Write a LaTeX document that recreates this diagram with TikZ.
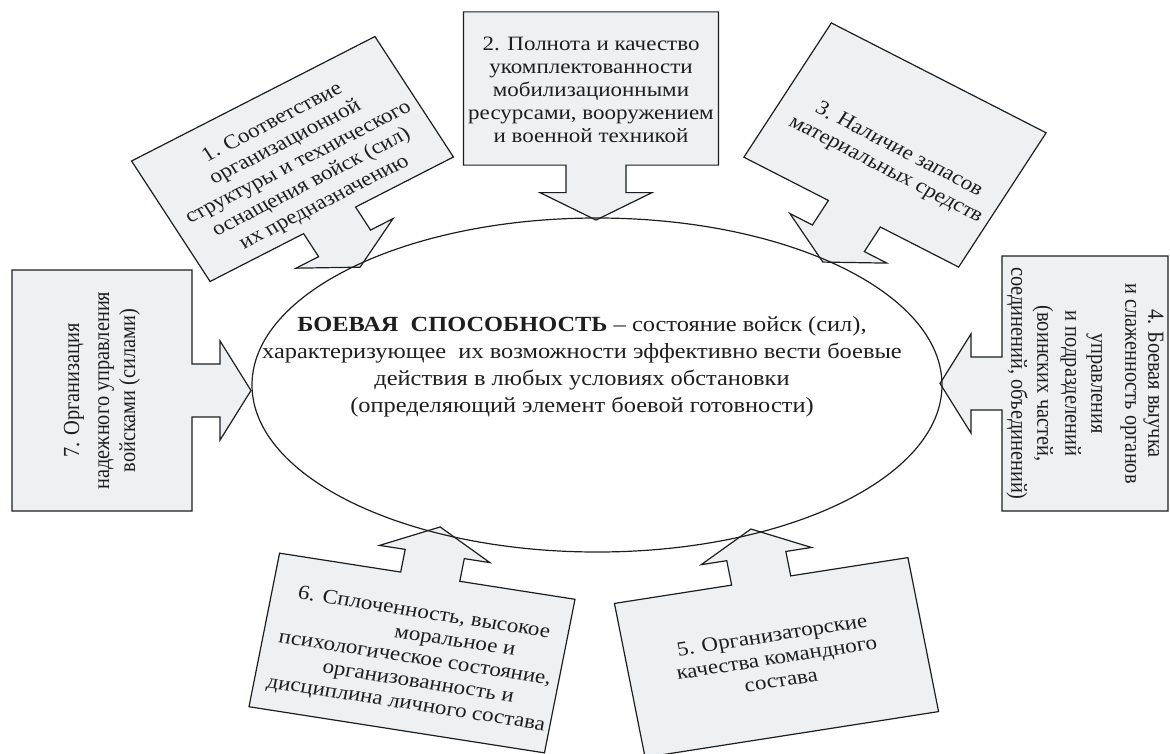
\documentclass[tikz,border=0pt]{standalone}
\usepackage{fontspec}
\setmainfont{Liberation Serif}
\definecolor{boxfill}{RGB}{239,240,242}
\definecolor{ink}{RGB}{30,30,30}

% Rectangle with an arrow leaving its lower side (local frame):
% #1 width, #2 height, #3 arrow offset along the side, #4 arrow length
\newcommand{\calloutpath}[4]{%
  ({-(#1)/2},{(#2)/2}) -- ({(#1)/2},{(#2)/2}) -- ({(#1)/2},{-(#2)/2})
  -- ({#3+30},{-(#2)/2}) -- ({#3+30},{-(#2)/2-(#4)+31})
  -- ({#3+56},{-(#2)/2-(#4)+31}) -- ({#3},{-(#2)/2-(#4)})
  -- ({#3-56},{-(#2)/2-(#4)+31}) -- ({#3-30},{-(#2)/2-(#4)+31})
  -- ({#3-30},{-(#2)/2}) -- ({-(#1)/2},{-(#2)/2}) -- cycle}

\tikzset{
  frame/.style n args={3}{shift={(#1,-#2)}, yscale=0.886, rotate=#3},
  calloutbox/.style={draw=ink, fill=boxfill, line width=1.2pt, line join=miter},
  callouttext/.style={transform shape, align=center, inner sep=0pt, text=ink,
    font=\fontsize{23}{26}\selectfont},
}

\begin{document}
\begin{tikzpicture}[x=1pt, y=1pt]
\useasboundingbox (0,0) rectangle (1170,-753);

% 1
\begin{scope}[frame={292.5}{159}{30}]
  \path[calloutbox] \calloutpath{281}{157}{-2.5}{61};
  \node[callouttext] (f1) at (3,-7) {1. Соответствие\\организационной\\структуры и технического\\оснащения войск (сил)\\их предназначению};
\end{scope}

% 2
\begin{scope}[frame={591}{88.5}{0}]
  \path[calloutbox] \calloutpath{255}{173}{5}{62};
  \node[callouttext] (f2) at (0,-2) {2. Полнота и качество\\укомплектованности\\мобилизационными\\ресурсами, вооружением\\и военной техникой};
\end{scope}

% 3
\begin{scope}[frame={895}{145}{-30}]
  \path[calloutbox] \calloutpath{248}{175}{3.6}{63};
  \node[callouttext] (f3) at (6,-16) {3. Наличие запасов\\материальных средств};
\end{scope}

% 4
\begin{scope}[frame={1085}{383.5}{-90}]
  \path[calloutbox] \calloutpath{288}{166}{0}{62};
  \node[callouttext] (f4) at (0,0) {4. Боевая выучка\\[-3pt]и слаженность органов\\[8pt]управления\\и подразделений\\[2pt](воинских частей,\\соединений, объединений)};
\end{scope}

% 7
\begin{scope}[frame={102}{390.5}{90}]
  \path[calloutbox] \calloutpath{272}{180}{0}{59};
  \node[callouttext] (f7) at (0,0) {7. Организация\\[4pt]надежного управления\\войсками (силами)};
\end{scope}

% 5
\begin{scope}[frame={776.5}{657.5}{10}]
  \begin{scope}[yscale=-1]
    \path[calloutbox] \calloutpath{298}{176.5}{0}{59};
  \end{scope}
  \node[callouttext] (f5) at (0,0) {5. Организаторские\\качества командного\\состава};
\end{scope}

% 6
\begin{scope}[frame={412}{653}{-10}]
  \begin{scope}[yscale=-1]
    \path[calloutbox] \calloutpath{300}{176}{3}{57};
  \end{scope}
  \node[callouttext] (f6) at (4,-6) {6. Сплоченность, высокое\\\hspace*{72pt}моральное и\\психологическое состояние,\\\hspace*{16pt}организованность и\\дисциплина личного состава};
\end{scope}

% central ellipse
\draw[draw=ink, line width=1.2pt] (597,-385) ellipse [x radius=345, y radius=167];
\node[yscale=0.886, align=center, inner sep=0pt, text=ink, font=\fontsize{24.4}{30.5}\selectfont] (core) at (582,-367)
  {\textbf{БОЕВАЯ\ \ СПОСОБНОСТЬ} – состояние войск (сил),\\характеризующее\ \ их возможности эффективно вести боевые\\действия в любых условиях обстановки\\(определяющий элемент боевой готовности)};
\end{tikzpicture}
\end{document}
